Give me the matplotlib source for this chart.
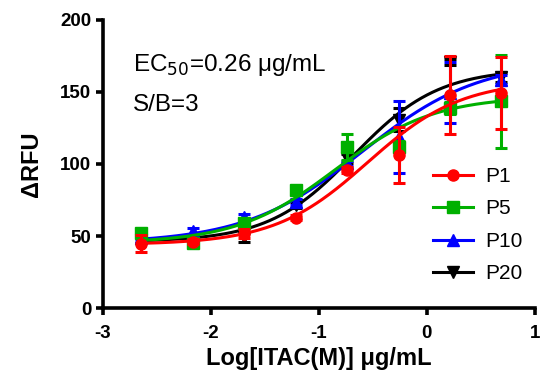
import numpy as np
import matplotlib.pyplot as plt

plt.rcParams['font.family'] = ['Liberation Sans', 'DejaVu Sans']
plt.rcParams['axes.unicode_minus'] = False

# log10 of concentration (ug/mL), 3-fold dilutions
logx = [-2.65, -2.17, -1.69, -1.21, -0.74, -0.26, 0.21, 0.69]

labels = ['P1', 'P5', 'P10', 'P20']
colors = ['#ff0000', '#00b000', '#0000ff', '#000000']
markers = ['o', 's', '^', 'v']

p1 = [44.6, 46.2, 51.6, 62.8, 95.7, 106.2, 148.0, 149.2]
p1_err = [5.8, 2.0, 3.0, 2.0, 2.0, 19.7, 27.0, 24.8]
p5 = [52.3, 45.0, 59.0, 81.8, 112.0, 112.0, 138.8, 143.4]
p5_err = [2.0, 2.0, 2.0, 2.0, 9.0, 4.0, 4.0, 32.0]
p10 = [48.8, 53.4, 63.2, 73.6, 100.4, 119.0, 149.4, 158.5]
p10_err = [2.0, 2.0, 2.0, 2.0, 2.0, 25.0, 21.0, 3.0]
p20 = [47.0, 46.5, 49.2, 71.3, 103.9, 130.6, 170.6, 160.0]
p20_err = [2.0, 2.0, 3.0, 2.0, 3.0, 8.0, 2.0, 3.0]

# 4PL fit parameters: bottom, top, logEC50, hill
fits = [
    (44, 158, -0.55, 1.0),
    (45, 147, -0.85, 0.95),
    (45, 172, -0.60, 0.8),
    (46, 166, -0.68, 1.1),
]

series = [(p1, p1_err), (p5, p5_err), (p10, p10_err), (p20, p20_err)]
zorders = [5, 4, 3, 2]


def four_pl(x, bottom, top, logec50, hill):
    return bottom + (top - bottom) / (1 + 10 ** ((logec50 - x) * hill))


fig = plt.figure(figsize=(5.6, 3.89), dpi=100)
ax = fig.add_axes([0.184, 0.208, 0.771, 0.741])

xs = np.linspace(logx[0], logx[-1], 200)
handles = []
for (y, err), fit, c, m, lab, z in zip(series, fits, colors, markers, labels, zorders):
    ax.errorbar(logx, y, yerr=err, fmt='none', ecolor=c, elinewidth=2.2,
                capsize=4.5, capthick=2.2, zorder=z)
    ax.plot(xs, four_pl(xs, *fit), color=c, lw=2.2, zorder=z)
    ax.plot(logx, y, linestyle='none', marker=m, color=c, ms=8, zorder=z + 0.5)
    h, = ax.plot([], [], color=c, lw=2.2, marker=m, ms=8, label=lab)
    handles.append(h)

ax.set_xlim(-3, 1)
ax.set_ylim(0, 200)
ax.set_xticks([-3, -2, -1, 0, 1])
ax.set_yticks([0, 50, 100, 150, 200])
for s in ['top', 'right']:
    ax.spines[s].set_visible(False)
for s in ['left', 'bottom']:
    ax.spines[s].set_linewidth(2.6)
ax.tick_params(width=2.6, length=5, direction='out', labelsize=13.5)
ax.tick_params(axis='x', pad=7)
for t in ax.get_xticklabels() + ax.get_yticklabels():
    t.set_fontweight('bold')

ax.set_xlabel('Log[ITAC(M)] \u03bcg/mL', fontsize=17, fontweight='bold', labelpad=4)
ax.set_ylabel('\u0394RFU', fontsize=17, fontweight='bold', labelpad=12)

ax.text(-2.72, 169, r'EC$_{50}$=0.26 $\mathregular{\mu}$g/mL', fontsize=17.5, va='center')
ax.text(-2.72, 141, 'S/B=3', fontsize=17.5, va='center')

ax.legend(handles=handles, loc='upper left', bbox_to_anchor=(0.765, 0.49),
          frameon=False, fontsize=15, handlelength=1.9, handletextpad=0.6,
          labelspacing=0.65, borderpad=0, borderaxespad=0)

fig.savefig('out.png', dpi=100)
